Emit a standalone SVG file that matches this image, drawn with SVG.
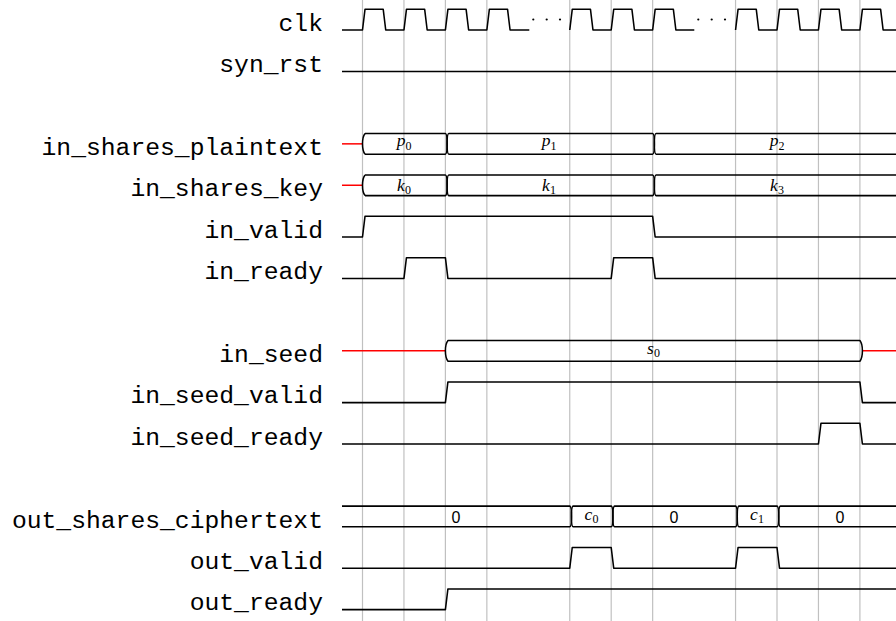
<svg xmlns="http://www.w3.org/2000/svg" width="896" height="621" viewBox="0 0 896 621">
<style>
.sig{fill:none;stroke:#000;stroke-width:1.55;stroke-linejoin:round}
.red{fill:none;stroke:#f00;stroke-width:1.5}
.grid{stroke:#c0c0c0;stroke-width:1.2}
.lbl{font-family:"Liberation Mono",monospace;font-size:24.7px;text-anchor:end;fill:#000}
.m{font-family:"Liberation Serif",serif;font-style:italic;font-size:17.5px;text-anchor:middle;fill:#000}
.sub{font-size:12px;font-style:normal}
.z{font-family:"Liberation Sans",sans-serif;font-size:16px;text-anchor:middle;fill:#000}
</style>
<rect width="896" height="621" fill="#fff"/>
<g id="grid">
<line class="grid" x1="362.5" y1="0" x2="362.5" y2="621"/>
<line class="grid" x1="403.95" y1="0" x2="403.95" y2="621"/>
<line class="grid" x1="445.4" y1="0" x2="445.4" y2="621"/>
<line class="grid" x1="486.85" y1="0" x2="486.85" y2="621"/>
<line class="grid" x1="569.75" y1="0" x2="569.75" y2="621"/>
<line class="grid" x1="611.2" y1="0" x2="611.2" y2="621"/>
<line class="grid" x1="652.65" y1="0" x2="652.65" y2="621"/>
<line class="grid" x1="735.55" y1="0" x2="735.55" y2="621"/>
<line class="grid" x1="777" y1="0" x2="777" y2="621"/>
<line class="grid" x1="818.45" y1="0" x2="818.45" y2="621"/>
<line class="grid" x1="859.9" y1="0" x2="859.9" y2="621"/>
</g>
<g id="clk">
<text class="lbl" x="323" y="30.7">clk</text>
<path class="sig" d="M342,30 H362.5 L365,9.3 H383.22 L385.72,30 H403.95 L406.45,9.3 H424.67 L427.17,30 H445.4 L447.9,9.3 H466.12 L468.62,30 H486.85 L489.35,9.3 H507.57 L510.07,30 H529.3"/>
<path class="sig" d="M569.75,30 L572.25,9.3 H590.47 L592.97,30 H611.2 L613.7,9.3 H631.92 L634.42,30 H652.65 L655.15,9.3 H673.37 L675.87,30 H694.3"/>
<path class="sig" d="M735.55,30 L738.05,9.3 H756.27 L758.77,30 H777 L779.5,9.3 H797.72 L800.22,30 H818.45 L820.95,9.3 H839.17 L841.67,30 H859.9 L862.4,9.3 H880.62 L883.12,30 H896"/>
<circle cx="533.3" cy="19.5" r="1.1"/><circle cx="546.7" cy="19.5" r="1.1"/><circle cx="560" cy="19.5" r="1.1"/>
<circle cx="698.3" cy="19.5" r="1.1"/><circle cx="711.7" cy="19.5" r="1.1"/><circle cx="725" cy="19.5" r="1.1"/>
</g>
<g id="syn_rst">
<text class="lbl" x="323" y="72.1">syn_rst</text>
<path class="sig" d="M342,71.4 H896"/>
</g>
<g id="in_shares_plaintext">
<text class="lbl" x="323" y="154.9">in_shares_plaintext</text>
<path class="red" d="M342,143.85 H362.5"/>
<path class="sig" d="M365,133.5 Q362.5,136.5 362.5,143.85 Q362.5,151.2 365,154.2"/>
<path class="sig" d="M365,133.5 H445.4 Q447.1,133.5 447.1,143.85 Q447.1,154.2 448.8,154.2 H652.65 Q654.35,154.2 654.35,143.85 Q654.35,133.5 656.05,133.5 H902"/>
<path class="sig" d="M365,154.2 H445.4 Q447.1,154.2 447.1,143.85 Q447.1,133.5 448.8,133.5 H652.65 Q654.35,133.5 654.35,143.85 Q654.35,154.2 656.05,154.2 H902"/>
<text class="m" x="404" y="146.4">p<tspan class="sub" dy="3.5">0</tspan></text>
<text class="m" x="549" y="146.4">p<tspan class="sub" dy="3.5">1</tspan></text>
<text class="m" x="777" y="146.4">p<tspan class="sub" dy="3.5">2</tspan></text>
</g>
<g id="in_shares_key">
<text class="lbl" x="323" y="196.3">in_shares_key</text>
<path class="red" d="M342,185.25 H362.5"/>
<path class="sig" d="M365,174.9 Q362.5,177.9 362.5,185.25 Q362.5,192.6 365,195.6"/>
<path class="sig" d="M365,174.9 H445.4 Q447.1,174.9 447.1,185.25 Q447.1,195.6 448.8,195.6 H652.65 Q654.35,195.6 654.35,185.25 Q654.35,174.9 656.05,174.9 H902"/>
<path class="sig" d="M365,195.6 H445.4 Q447.1,195.6 447.1,185.25 Q447.1,174.9 448.8,174.9 H652.65 Q654.35,174.9 654.35,185.25 Q654.35,195.6 656.05,195.6 H902"/>
<text class="m" x="404" y="191.2">k<tspan class="sub" dy="2.5">0</tspan></text>
<text class="m" x="549" y="191.2">k<tspan class="sub" dy="2.5">1</tspan></text>
<text class="m" x="777" y="191.2">k<tspan class="sub" dy="2.5">3</tspan></text>
</g>
<g id="in_valid">
<text class="lbl" x="323" y="237.7">in_valid</text>
<path class="sig" d="M342,237 H362.5 L365,216.3 H652.65 L655.15,237 H896"/>
</g>
<g id="in_ready">
<text class="lbl" x="323" y="279.1">in_ready</text>
<path class="sig" d="M342,278.4 H403.95 L406.45,257.7 H445.4 L447.9,278.4 H611.2 L613.7,257.7 H652.65 L655.15,278.4 H896"/>
</g>
<g id="in_seed">
<text class="lbl" x="323" y="361.9">in_seed</text>
<path class="red" d="M342,350.85 H445.4 M862.4,350.85 H896"/>
<path class="sig" d="M448,340.5 H859.9 Q862.4,343.5 862.4,350.85 Q862.4,358.2 859.9,361.2 H448 Q445.4,358.2 445.4,350.85 Q445.4,343.5 448,340.5 Z"/>
<text class="m" x="653.5" y="354.3">s<tspan class="sub" dy="2.5">0</tspan></text>
</g>
<g id="in_seed_valid">
<text class="lbl" x="323" y="403.3">in_seed_valid</text>
<path class="sig" d="M342,402.6 H445.4 L447.9,381.9 H859.9 L862.4,402.6 H896"/>
</g>
<g id="in_seed_ready">
<text class="lbl" x="323" y="444.7">in_seed_ready</text>
<path class="sig" d="M342,444 H818.45 L820.95,423.3 H859.9 L862.4,444 H896"/>
</g>
<g id="out_shares_ciphertext">
<text class="lbl" x="323" y="527.5">out_shares_ciphertext</text>
<path class="sig" d="M342,506.1 H569.75 Q571.45,506.1 571.45,516.45 Q571.45,526.8 573.15,526.8 H611.2 Q612.9,526.8 612.9,516.45 Q612.9,506.1 614.6,506.1 H735.55 Q737.25,506.1 737.25,516.45 Q737.25,526.8 738.95,526.8 H777 Q778.7,526.8 778.7,516.45 Q778.7,506.1 780.4,506.1 H902"/>
<path class="sig" d="M342,526.8 H569.75 Q571.45,526.8 571.45,516.45 Q571.45,506.1 573.15,506.1 H611.2 Q612.9,506.1 612.9,516.45 Q612.9,526.8 614.6,526.8 H735.55 Q737.25,526.8 737.25,516.45 Q737.25,506.1 738.95,506.1 H777 Q778.7,506.1 778.7,516.45 Q778.7,526.8 780.4,526.8 H902"/>
<text class="z" x="456" y="522.5">0</text>
<text class="m" x="591.5" y="520">c<tspan class="sub" dy="2.5">0</tspan></text>
<text class="z" x="674" y="522.5">0</text>
<text class="m" x="757" y="520">c<tspan class="sub" dy="2.5">1</tspan></text>
<text class="z" x="840" y="522.5">0</text>
</g>
<g id="out_valid">
<text class="lbl" x="323" y="568.9">out_valid</text>
<path class="sig" d="M342,568.2 H569.75 L572.25,547.5 H611.2 L613.7,568.2 H735.55 L738.05,547.5 H777 L779.5,568.2 H896"/>
</g>
<g id="out_ready">
<text class="lbl" x="323" y="610.3">out_ready</text>
<path class="sig" d="M342,609.6 H445.4 L447.9,588.9 H896"/>
</g>
</svg>
